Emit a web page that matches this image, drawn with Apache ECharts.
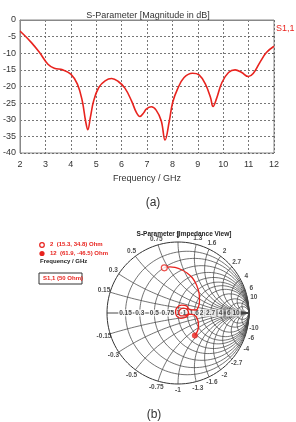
<!DOCTYPE html>
<html>
<head>
<meta charset="utf-8">
<script src="https://cdn.jsdelivr.net/npm/echarts@6/dist/echarts.min.js"></script>
<style>
    html, body { margin: 0; padding: 0; background: #fff; }
    #chart { width: 296px; height: 422px; }
</style>
</head>
<body>
<div id="chart"></div>
<script>
// (a) S1,1 magnitude
var freqGHz = [2.0, 2.04, 2.45, 2.77, 3.1, 3.35, 3.68, 4.0, 4.26, 4.45, 4.58, 4.67, 4.77, 4.9, 5.1, 5.35, 5.61,
    5.87, 6.13, 6.39, 6.58, 6.72, 6.88, 6.97, 7.17, 7.36, 7.56, 7.71, 7.88, 8.01, 8.2, 8.46, 8.79, 9.05,
    9.3, 9.5, 9.6, 9.73, 9.95, 10.21, 10.47, 10.73, 10.99, 11.18, 11.44, 11.7, 12.0]
var s11dB = [-3.4, -3.6, -6.8, -9.8, -13.3, -14.5, -15.0, -16.3, -19.3, -24.3, -30.3, -33.0, -29.3, -24.3, -20.3, -18.3, -17.6,
    -18.5, -20.5, -24.3, -27.8, -29.0, -27.8, -26.8, -26.1, -27.1, -30.3, -36.1, -30.3, -24.8, -20.8, -17.3, -16.0, -16.5,
    -19.3, -23.3, -26.0, -23.8, -18.8, -15.8, -15.0, -15.8, -17.0, -16.1, -12.8, -9.8, -7.9]

// (b) smith chart: grid values and the S1,1 trace (reflection coefficient)
var smithValues = [0.15, 0.3, 0.5, 0.75, 1, 1.3, 1.6, 2, 2.7, 4, 6, 10]
var traceRe = [-0.193, -0.113, -0.042, 0.042, 0.127, 0.204, 0.261, 0.296, 0.303, 0.289, 0.254, 0.16,
    0.12, 0.05, -0.01, -0.035, -0.02, 0.04, 0.11, 0.15, 0.13, 0.08, 0.03, 0.01, 0.04, 0.1, 0.14,
    0.2, 0.254, 0.282, 0.289, 0.275, 0.238]
var traceIm = [0.636, 0.651, 0.641, 0.613, 0.563, 0.493, 0.394, 0.282, 0.169, 0.092, 0.042, 0.05,
    0.1, 0.11, 0.08, 0.02, -0.04, -0.075, -0.06, -0.01, 0.05, 0.07, 0.05, 0.0, -0.04, -0.04, -0.015,
    -0.02, -0.049, -0.113, -0.183, -0.254, -0.317]
var markerNames = ['2', '12']
var markerR = [15.3, 61.9]
var markerX = [34.8, -46.5]
var z0 = 50

var red = '#e8231e'
var font = 'Liberation Sans'

function gamma(r, x) {
    var d = (r + 1) * (r + 1) + x * x
    return [(r * r - 1 + x * x) / d, 2 * x / d]
}

function gridLine(points, width, color) {
    return {
        type: 'line', xAxisIndex: 1, yAxisIndex: 1, data: points, showSymbol: false, silent: true,
        lineStyle: { color: color || '#444', width: width || 0.75 }, z: 1
    }
}

var series = []

series.push({
    name: 'S1,1', type: 'line', xAxisIndex: 0, yAxisIndex: 0, smooth: 0.4, showSymbol: false,
    data: freqGHz.map(function (f, i) { return [f, s11dB[i]] }),
    lineStyle: { color: red, width: 1.6 }
})

// outer circle and real axis
var outer = []
for (var a = 0; a <= 360; a += 3) outer.push([Math.cos(a * Math.PI / 180), Math.sin(a * Math.PI / 180)])
series.push(gridLine(outer, 1, '#333'))
series.push(gridLine([[-1, 0], [1, 0]], 0.9, '#333'))

smithValues.forEach(function (v) {
    // constant resistance circle
    var c = []
    for (var k = -89.5; k <= 89.5; k += 1.5) c.push(gamma(v, Math.tan(k * Math.PI / 180)))
    c.push([1, 0])
    c.unshift([1, 0])
    series.push(gridLine(c))
    // constant reactance arcs
    ;[v, -v].forEach(function (x) {
        var arc = []
        for (var t = 0; t < 0.999; t += 0.01) arc.push(gamma(t / (1 - t), x))
        arc.push([1, 0])
        series.push(gridLine(arc))
    })
})

// tick labels
var rLabels = smithValues.map(function (v) { return [(v - 1) / (v + 1), 0, String(v)] })
var xLabels = []
smithValues.forEach(function (v) {
    ;[v, -v].forEach(function (x) {
        var g = gamma(0, x)
        xLabels.push([g[0] * 1.09, g[1] * 1.09, String(x)])
    })
})
var labelStyle = { show: true, position: 'inside', formatter: function (p) { return p.value[2] },
    fontSize: 6.5, fontWeight: 'bold', color: '#222', fontFamily: font }
series.push({
    type: 'scatter', xAxisIndex: 1, yAxisIndex: 1, symbolSize: 0, data: rLabels, silent: true, z: 3,
    label: Object.assign({ backgroundColor: '#fff', padding: [0, 1] }, labelStyle)
})
series.push({
    type: 'scatter', xAxisIndex: 1, yAxisIndex: 1, symbolSize: 0, data: xLabels, silent: true, z: 3,
    label: labelStyle
})

// trace and markers
series.push({
    type: 'line', xAxisIndex: 1, yAxisIndex: 1, smooth: 0.3, showSymbol: false, z: 5,
    data: traceRe.map(function (re, i) { return [re, traceIm[i]] }),
    lineStyle: { color: red, width: 1.3 }
})
var markerPts = markerR.map(function (r, i) { return gamma(r / z0, markerX[i] / z0) })
series.push({
    type: 'scatter', xAxisIndex: 1, yAxisIndex: 1, z: 6, symbolSize: 6,
    data: [
        { value: markerPts[0], itemStyle: { color: '#fff', borderColor: red, borderWidth: 1.2 } },
        { value: markerPts[1], itemStyle: { color: red } }
    ]
})

var chart = echarts.init(document.getElementById('chart'))
chart.setOption({
    animation: false,
    textStyle: { fontFamily: font },
    title: [
        { text: 'S-Parameter [Magnitude in dB]', left: 143, top: 6, textAlign: 'center',
          textStyle: { fontSize: 9, fontWeight: 'normal', color: '#333', fontFamily: font } },
        { text: '(a)', left: 148, top: 192, textAlign: 'center',
          textStyle: { fontSize: 12, fontWeight: 'normal', color: '#333', fontFamily: font } },
        { text: 'S-Parameter [Impedance View]', left: 179, top: 226, textAlign: 'center',
          textStyle: { fontSize: 6.5, fontWeight: 'bold', color: '#222', fontFamily: font } },
        { text: '(b)', left: 149, top: 404, textAlign: 'center',
          textStyle: { fontSize: 12, fontWeight: 'normal', color: '#333', fontFamily: font } }
    ],
    grid: [
        { left: 17, top: 20, right: 22, height: 133, show: true, borderColor: '#888', borderWidth: 1 },
        { left: 89.25, top: 224.25, width: 177.5, height: 177.5 }
    ],
    xAxis: [
        { type: 'value', gridIndex: 0, min: 2, max: 12, interval: 1,
          name: 'Frequency / GHz', nameLocation: 'middle', nameGap: 21,
          nameTextStyle: { fontSize: 9, color: '#333', fontFamily: font },
          axisLine: { lineStyle: { color: '#888' } }, axisTick: { show: false },
          axisLabel: { fontSize: 9, color: '#333', margin: 7 },
          splitLine: { lineStyle: { type: [2, 2], color: '#555', width: 0.8 } } },
        { type: 'value', gridIndex: 1, min: -1.25, max: 1.25, show: false }
    ],
    yAxis: [
        { type: 'value', gridIndex: 0, min: -40, max: 0, interval: 5,
          axisLine: { show: true, lineStyle: { color: '#888' } }, axisTick: { show: false },
          axisLabel: { fontSize: 9, color: '#333', margin: 4 },
          splitLine: { lineStyle: { type: [2, 2], color: '#555', width: 0.8 } } },
        { type: 'value', gridIndex: 1, min: -1.25, max: 1.25, show: false }
    ],
    graphic: [
        { type: 'text', left: 276, top: 24, style: { text: 'S1,1', fill: red, font: '9px ' + font } },
        { type: 'circle', shape: { cx: 42, cy: 245, r: 2.3 }, style: { fill: '#fff', stroke: red, lineWidth: 1.2 } },
        { type: 'circle', shape: { cx: 42, cy: 253.5, r: 2.6 }, style: { fill: red } },
        { type: 'text', left: 50, top: 241.5,
          style: { text: markerNames[0] + '  (' + markerR[0] + ', ' + markerX[0] + ') Ohm', fill: red, font: 'bold 6px ' + font } },
        { type: 'text', left: 50, top: 250,
          style: { text: markerNames[1] + '  (' + markerR[1] + ', ' + markerX[1] + ') Ohm', fill: red, font: 'bold 6px ' + font } },
        { type: 'text', left: 40, top: 258.5, style: { text: 'Frequency / GHz', fill: '#222', font: 'bold 6px ' + font } },
        { type: 'rect', shape: { x: 39, y: 273, width: 43, height: 11 }, style: { fill: '#fff', stroke: '#333', lineWidth: 1 } },
        { type: 'text', left: 43, top: 275.5, style: { text: 'S1,1 (50 Ohm)', fill: red, font: 'bold 6px ' + font } }
    ],
    series: series
})
</script>
</body>
</html>
